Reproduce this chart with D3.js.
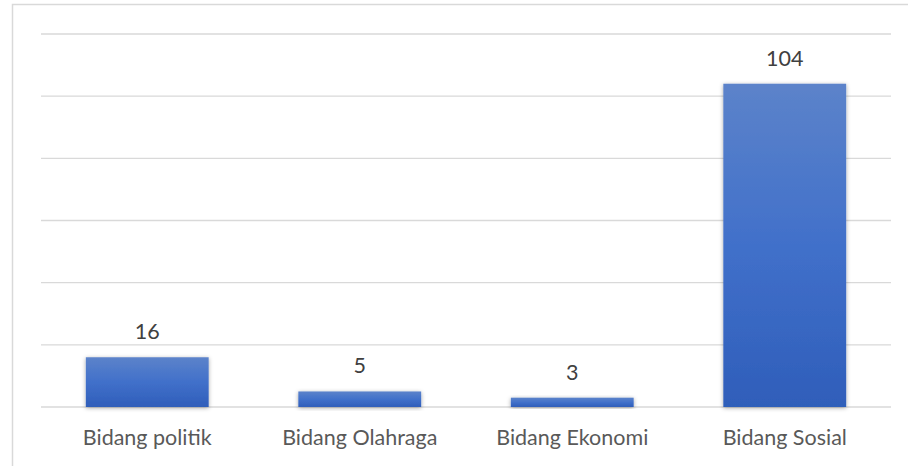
<!DOCTYPE html>
<html><head><meta charset="utf-8">
<script src="https://cdn.jsdelivr.net/npm/d3@7"></script>
<style>html,body{margin:0;padding:0;background:#fff;}svg{display:block;}</style>
</head><body>
<svg id="c" width="908" height="466"></svg>
<script>
const categories = ["Bidang politik", "Bidang Olahraga", "Bidang Ekonomi", "Bidang Sosial"];
const values = [16, 5, 3, 104];
const yTicks = [0, 20, 40, 60, 80, 100, 120];

const svg = d3.select("#c");
const W = 908, H = 466;
const m = {left: 41, right: 17, top: 34, bottom: 59};

// outer border
svg.append("rect").attr("x", 12.5).attr("y", 4.5).attr("width", W).attr("height", H)
  .attr("fill", "#fff").attr("stroke", "#d9d9d9").attr("stroke-width", 1.5);

const defs = svg.append("defs");
const g1 = defs.append("linearGradient").attr("id", "bg").attr("x1", 0).attr("y1", 0).attr("x2", 0).attr("y2", 1);
g1.append("stop").attr("offset", "0%").attr("stop-color", "#5c83ca");
g1.append("stop").attr("offset", "50%").attr("stop-color", "#4170ca");
g1.append("stop").attr("offset", "100%").attr("stop-color", "#2f5eba");
const f = defs.append("filter").attr("id", "sh").attr("x", "-20%").attr("y", "-20%").attr("width", "140%").attr("height", "140%");
f.append("feDropShadow").attr("dx", 0).attr("dy", 1).attr("stdDeviation", 2).attr("flood-color", "#000").attr("flood-opacity", 0.35);

const x = d3.scaleBand().domain(categories).range([m.left, W - m.right]).paddingInner(0.73/1.73).paddingOuter(0.73/1.73/2);
const y = d3.scaleLinear().domain([0, 120]).range([H - m.bottom, m.top]);

// gridlines
svg.append("g").selectAll("line").data(yTicks).join("line")
  .attr("x1", m.left).attr("x2", W - m.right)
  .attr("y1", d => y(d)).attr("y2", d => y(d))
  .attr("stroke", "#d9d9d9").attr("stroke-width", 1.3);

// bars
svg.append("g").selectAll("rect").data(values).join("rect")
  .attr("x", (d, i) => x(categories[i]))
  .attr("width", x.bandwidth())
  .attr("y", d => y(d))
  .attr("height", d => y(0) - y(d))
  .attr("fill", "url(#bg)")
  .attr("filter", "url(#sh)");

// value labels
svg.append("g").selectAll("text").data(values).join("text")
  .attr("x", (d, i) => x(categories[i]) + x.bandwidth() / 2)
  .attr("y", d => y(d) - 18)
  .attr("text-anchor", "middle")
  .attr("font-family", "Lato, 'Open Sans', sans-serif")
  .attr("font-size", 21.5)
  .attr("fill", "#404040")
  .text(d => d);

// category axis labels
const xAxis = d3.axisBottom(x).tickSize(0).tickPadding(0);
const ax = svg.append("g").attr("transform", `translate(0,${H - m.bottom})`).call(xAxis);
ax.select(".domain").remove();
ax.selectAll("text")
  .attr("y", 38).attr("dy", 0)
  .attr("font-family", "Lato, 'Open Sans', sans-serif")
  .attr("font-size", 21.5)
  .attr("fill", "#595959");
</script>
</body></html>
